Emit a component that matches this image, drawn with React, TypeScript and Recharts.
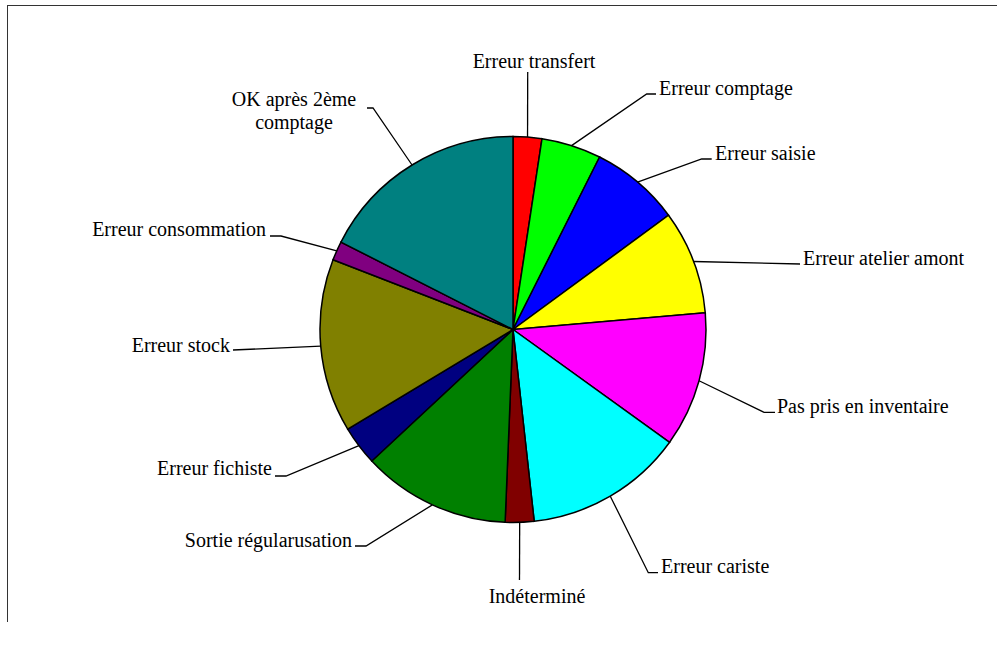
import { PieChart, Pie, Cell } from 'recharts';

// Categories and their share (in % of the disc)
const categories = [
  'Erreur transfert',
  'Erreur comptage',
  'Erreur saisie',
  'Erreur atelier amont',
  'Pas pris en inventaire',
  'Erreur cariste',
  'Indéterminé',
  'Sortie régularusation',
  'Erreur fichiste',
  'Erreur stock',
  'Erreur consommation',
  'OK après 2ème comptage',
];
const values = [2.4, 5.0, 7.5, 8.7, 11.3, 13.3, 2.4, 12.4, 3.3, 14.5, 1.6, 17.5];

const COLORS = [
  '#ff0000', '#00ff00', '#0000ff', '#ffff00', '#ff00ff', '#00ffff',
  '#800000', '#008000', '#000080', '#808000', '#800080', '#008080',
];

// Label placement (Excel-style manual leader lines): elbow point, end of the
// short horizontal tick, text anchor point
type LabelPos = { ex: number; ey: number; hx?: number; tx: number; ty: number; anchor: 'start' | 'middle' | 'end'; lines?: string[] };
const LABEL_POS: LabelPos[] = [
  { ex: 527.7, ey: 72, tx: 534, ty: 68, anchor: 'middle' },
  { ex: 646.7, ey: 94, hx: 656, tx: 659, ty: 95, anchor: 'start' },
  { ex: 701.7, ey: 159, hx: 711.7, tx: 715, ty: 160, anchor: 'start' },
  { ex: 800, ey: 264, tx: 803, ty: 265, anchor: 'start' },
  { ex: 764, ey: 412.3, hx: 775, tx: 777, ty: 413, anchor: 'start' },
  { ex: 648.3, ey: 572.7, hx: 658, tx: 661, ty: 573, anchor: 'start' },
  { ex: 519.5, ey: 580, tx: 537, ty: 603, anchor: 'middle' },
  { ex: 366, ey: 546, hx: 355, tx: 352, ty: 547, anchor: 'end' },
  { ex: 286, ey: 476, hx: 275, tx: 272, ty: 475, anchor: 'end' },
  { ex: 233, ey: 350, tx: 230, ty: 352, anchor: 'end' },
  { ex: 281, ey: 236, hx: 270, tx: 266, ty: 236, anchor: 'end' },
  { ex: 373, ey: 108, hx: 367, tx: 294, ty: 106, anchor: 'middle', lines: ['OK après 2ème', 'comptage'] },
];

const data = categories.map((name, i) => ({ name, value: values[i] }));

const RADIAN = Math.PI / 180;
const FONT = '"Liberation Serif", "Times New Roman", serif';

const renderLabel = (props: any) => {
  const { cx, cy, midAngle, outerRadius, index } = props;
  const pos = LABEL_POS[index];
  const sx = cx + outerRadius * Math.cos(-midAngle * RADIAN);
  const sy = cy + outerRadius * Math.sin(-midAngle * RADIAN);
  let d = `M${sx},${sy}L${pos.ex},${pos.ey}`;
  if (pos.hx !== undefined) d += `L${pos.hx},${pos.ey}`;
  const lines = pos.lines ?? [categories[index]];
  return (
    <g key={`lbl-${index}`}>
      <path d={d} stroke="#000" strokeWidth={1.3} fill="none" />
      <text x={pos.tx} y={pos.ty} textAnchor={pos.anchor} fontFamily={FONT} fontSize={20} fill="#000">
        {lines.map((l, k) => (
          <tspan key={k} x={pos.tx} dy={k === 0 ? 0 : 23}>{l}</tspan>
        ))}
      </text>
    </g>
  );
};

export default function App() {
  return (
    <div style={{ position: 'absolute', left: 0, top: 0, width: 997, height: 649, background: '#fff' }}>
      {/* chart area frame (only top and left edges are visible) */}
      <div
        style={{
          position: 'absolute',
          left: 7,
          top: 5,
          width: 1000,
          height: 616,
          borderTop: '1.5px solid #333',
          borderLeft: '1.5px solid #333',
        }}
      />
      <PieChart
        width={997}
        height={649}
        margin={{ top: 0, right: 0, bottom: 0, left: 0 }}
        style={{ position: 'absolute', left: 0, top: 0 }}
      >
        <Pie
          data={data}
          dataKey="value"
          cx={513}
          cy={329.5}
          outerRadius={193}
          innerRadius={0}
          startAngle={90}
          endAngle={-270}
          stroke="#000"
          strokeWidth={1.5}
          label={renderLabel}
          labelLine={false}
          isAnimationActive={false}
        >
          {data.map((_e, i) => (
            <Cell key={`cell-${i}`} fill={COLORS[i]} />
          ))}
        </Pie>
      </PieChart>
    </div>
  );
}
